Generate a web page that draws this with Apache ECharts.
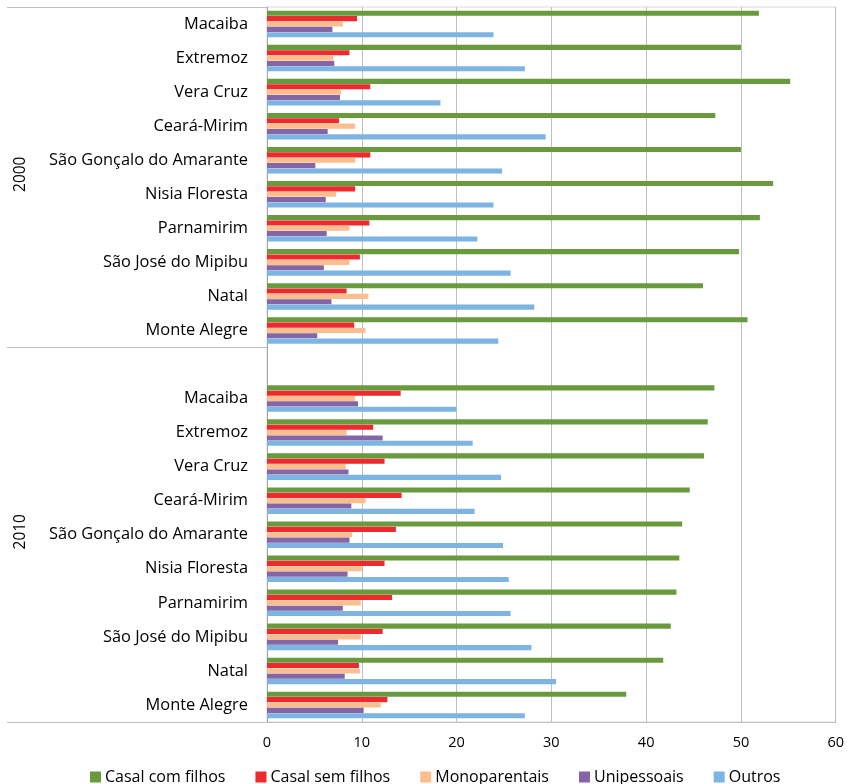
<!DOCTYPE html>
<html><head><meta charset="utf-8">
<script src="https://cdn.jsdelivr.net/npm/echarts@6/dist/echarts.min.js"></script>
<style>html,body{margin:0;padding:0;background:#fff}#c{width:847px;height:784px}</style>
</head><body><div id="c"></div>
<script>
const municipios = ['Macaiba','Extremoz','Vera Cruz','Ceará-Mirim','São Gonçalo do Amarante','Nisia Floresta','Parnamirim','São José do Mipibu','Natal','Monte Alegre'];
const anos = ['2000','2010'];
const seriesNames = ['Casal com filhos','Casal sem filhos','Monoparentais','Unipessoais','Outros'];
const casalComFilhos2000 = [51.9,50.0,55.2,47.3,50.0,53.4,52.0,49.8,46.0,50.7];
const casalComFilhos2010 = [47.2,46.5,46.1,44.6,43.8,43.5,43.2,42.6,41.8,37.9];
const casalSemFilhos2000 = [9.5,8.7,10.9,7.6,10.9,9.3,10.8,9.8,8.4,9.2];
const casalSemFilhos2010 = [14.1,11.2,12.4,14.2,13.6,12.4,13.2,12.2,9.7,12.7];
const monoparentais2000 = [8.0,7.0,7.8,9.3,9.3,7.3,8.7,8.7,10.7,10.4];
const monoparentais2010 = [9.3,8.4,8.3,10.4,9.0,10.0,9.9,9.9,9.8,12.0];
const unipessoais2000 = [6.9,7.1,7.7,6.4,5.1,6.2,6.3,6.0,6.8,5.3];
const unipessoais2010 = [9.6,12.2,8.6,8.9,8.7,8.5,8.0,7.5,8.2,10.2];
const outros2000 = [23.9,27.2,18.3,29.4,24.8,23.9,22.2,25.7,28.2,24.4];
const outros2010 = [20.0,21.7,24.7,21.9,24.9,25.5,25.7,27.9,30.5,27.2];
const xMin = 0, xMax = 60, xStep = 10;

const colors = ['#6a9a3e','#ee2a2e','#fbbe8f','#8465a6','#7db4e2'];
const values2000 = [casalComFilhos2000,casalSemFilhos2000,monoparentais2000,unipessoais2000,outros2000];
const values2010 = [casalComFilhos2010,casalSemFilhos2010,monoparentais2010,unipessoais2010,outros2010];

// categories: 2000 group, one empty slot, 2010 group
const cats = municipios.map(m => anos[0] + '|' + m)
  .concat(['gap|'])
  .concat(municipios.map(m => anos[1] + '|' + m));

const FONT = 'Open Sans';
const chart = echarts.init(document.getElementById('c'), null, {renderer: 'canvas'});

const series = seriesNames.map((name, i) => ({
  name: name,
  type: 'bar',
  yAxisIndex: 0,
  data: values2000[i].concat([null]).concat(values2010[i]),
  itemStyle: {color: colors[i]},
  barGap: '5%',
  barCategoryGap: '22%',
  emphasis: {disabled: true}
}));

chart.setOption({
  animation: false,
  backgroundColor: '#fff',
  textStyle: {fontFamily: FONT},
  grid: {left: 267, right: 10, top: 7, bottom: 62, show: true, borderColor: '#d9d9d9', borderWidth: 1},
  legend: {
    data: seriesNames,
    top: 764,
    left: 85,
    icon: 'rect',
    itemWidth: 11,
    itemHeight: 11,
    itemGap: 30,
    textStyle: {fontFamily: FONT, fontSize: 16, color: '#000', padding: [0,0,0,-1]}
  },
  xAxis: {
    type: 'value', min: xMin, max: xMax, interval: xStep,
    axisLine: {show: true, lineStyle: {color: '#bfbfbf'}},
    axisTick: {show: false},
    splitLine: {show: true, lineStyle: {color: '#bfbfbf', width: 1}},
    axisLabel: {fontFamily: FONT, fontSize: 14.5, color: '#000', margin: 13}
  },
  yAxis: [{
    type: 'category', inverse: true, data: cats,
    axisLine: {show: true, lineStyle: {color: '#a6a6a6'}},
    axisTick: {show: false},
    axisLabel: {fontFamily: FONT, fontSize: 16.4, color: '#000', margin: 19, interval: 0,
      formatter: v => v.split('|')[1]}
  }, {
    type: 'category', inverse: true, data: cats, position: 'left',
    axisLine: {show: false},
    axisLabel: {show: false},
    axisTick: {show: true, length: 260, interval: (i) => i === 0 || i === municipios.length,
      lineStyle: {color: '#bfbfbf', width: 1}},
    splitLine: {show: false}
  }],
  series: series
});

// year group labels, centred on each group using the axis scale
function yearLabels() {
  const top0 = chart.convertToPixel({yAxisIndex: 0}, cats[0]);
  const band = chart.convertToPixel({yAxisIndex: 0}, cats[1]) - top0;
  const g0Start = top0 - band / 2;
  const g0End = g0Start + band * municipios.length;
  const g1End = g0Start + band * cats.length;
  const centers = [(g0Start + g0End) / 2, (g0End + g1End) / 2];
  chart.setOption({
    graphic: anos.map((a, i) => ({
      type: 'text',
      x: 21, y: centers[i] - 3,
      rotation: Math.PI / 2,
      style: {text: a, fontFamily: FONT, fontSize: 15.5, fill: '#000', align: 'center', verticalAlign: 'middle'}
    }))
  });
}
yearLabels();
</script>
</body></html>
